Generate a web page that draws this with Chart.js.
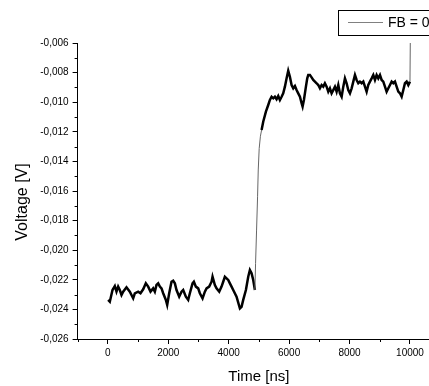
<!DOCTYPE html>
<html>
<head>
<meta charset="utf-8">
<script src="https://cdn.jsdelivr.net/npm/chart.js@4.4.1/dist/chart.umd.min.js"></script>
<style>
    html, body { margin: 0; padding: 0; background: #fff; overflow: hidden; }
    canvas { display: block; }
</style>
</head>
<body>
<canvas id="voltChart" width="470" height="386"></canvas>
<script>
// Thời gian (ns) và điện áp (V)
const baseTime = [
    11, 66, 155, 232, 287, 342, 397, 453, 508, 618,
    728, 839, 894, 1004, 1082, 1170, 1258, 1336, 1413, 1501,
    1556, 1611, 1667, 1722, 1777, 1832, 1921, 1965, 2031, 2108,
    2163, 2219, 2274, 2362, 2439, 2494, 2583, 2660, 2715, 2804,
    2848, 2914, 2991, 3046, 3135, 3212, 3267, 3355, 3433, 3466,
    3543, 3598, 3687, 3764, 3819, 3874, 3929, 3985, 4040, 4095,
    4150, 4260, 4371, 4426, 4481, 4570, 4647, 4702, 4757, 4812,
    4868
];
const baseVolt = [
    -0.02336, -0.02348, -0.02269, -0.02242, -0.02280, -0.02246, -0.02269, -0.02303, -0.02280, -0.02251,
    -0.02280, -0.02325, -0.02291, -0.02280, -0.02291, -0.02264, -0.02224, -0.02246, -0.02280, -0.02258,
    -0.02280, -0.02235, -0.02224, -0.02246, -0.02258, -0.02291, -0.02336, -0.02370, -0.02291, -0.02213,
    -0.02206, -0.02224, -0.02269, -0.02314, -0.02280, -0.02269, -0.02314, -0.02336, -0.02291, -0.02224,
    -0.02213, -0.02246, -0.02258, -0.02291, -0.02325, -0.02280, -0.02258, -0.02246, -0.02213, -0.02179,
    -0.02235, -0.02258, -0.02280, -0.02246, -0.02213, -0.02179, -0.02190, -0.02201, -0.02224, -0.02246,
    -0.02269, -0.02314, -0.02393, -0.02382, -0.02336, -0.02269, -0.02179, -0.02134, -0.02156, -0.02201,
    -0.02269
];
const stepTime = [
    4890, 4923, 4956, 4978, 5010, 5050, 5089, 5143, 5232, 5309,
    5364, 5420, 5475, 5530, 5585, 5640, 5695, 5751, 5805, 5861,
    5917, 5971, 6026, 6082, 6137, 6192, 6247, 6302, 6358, 6413,
    6446, 6490, 6556, 6600, 6634, 6689, 6744, 6799, 6854, 6910,
    6965, 7020, 7075, 7130, 7185, 7241, 7296, 7351, 7406, 7461,
    7517, 7572, 7627, 7682, 7738, 7793, 7848, 7903, 7958, 8013,
    8069, 8124, 8179, 8234, 8289, 8344, 8400, 8455, 8510, 8565,
    8620, 8675, 8731, 8786, 8841, 8896, 8951, 9007, 9062, 9117,
    9172, 9227, 9283, 9338, 9393, 9448, 9503, 9558, 9614, 9669,
    9724, 9779, 9834, 9890, 9945, 10000, 10010
];
const stepVolt = [
    -0.02089, -0.01864, -0.01639, -0.01458, -0.01312, -0.01230, -0.01188, -0.01132, -0.01064, -0.01019,
    -0.00985, -0.00963, -0.00974, -0.00963, -0.00980, -0.00958, -0.00985, -0.00963, -0.00940, -0.00895,
    -0.00839, -0.00787, -0.00828, -0.00884, -0.00906, -0.00891, -0.00918, -0.00940, -0.00963, -0.01007,
    -0.01030, -0.00985, -0.00895, -0.00839, -0.00816, -0.00816, -0.00832, -0.00850, -0.00861, -0.00872,
    -0.00884, -0.00906, -0.00884, -0.00895, -0.00872, -0.00895, -0.00929, -0.00906, -0.00940, -0.00918,
    -0.00895, -0.00929, -0.00884, -0.00940, -0.00963, -0.00895, -0.00839, -0.00872, -0.00918, -0.00940,
    -0.00906, -0.00861, -0.00816, -0.00850, -0.00872, -0.00861, -0.00872, -0.00861, -0.00895, -0.00929,
    -0.00884, -0.00861, -0.00839, -0.00816, -0.00850, -0.00816, -0.00839, -0.00816, -0.00850, -0.00861,
    -0.00895, -0.00929, -0.00906, -0.00884, -0.00861, -0.00872, -0.00861, -0.00895, -0.00929, -0.00940,
    -0.00963, -0.00918, -0.00872, -0.00861, -0.00884, -0.00861, -0.00600
];

const xTickValues = [-1000, 0, 1000, 2000, 3000, 4000, 5000, 6000, 7000, 8000, 9000, 10000, 11000];
const xTickLabels = ['', '0', '', '2000', '', '4000', '', '6000', '', '8000', '', '10000', ''];
const yTickValues = [-0.026, -0.025, -0.024, -0.023, -0.022, -0.021, -0.020, -0.019, -0.018, -0.017, -0.016,
    -0.015, -0.014, -0.013, -0.012, -0.011, -0.010, -0.009, -0.008, -0.007, -0.006];
const yTickLabels = ['-0,026', '', '-0,024', '', '-0,022', '', '-0,020', '', '-0,018', '', '-0,016',
    '', '-0,014', '', '-0,012', '', '-0,010', '', '-0,008', '', '-0,006'];

const seriesLabel = 'FB = 0';
const FONT = '"Liberation Sans", Arial, sans-serif';

document.addEventListener("DOMContentLoaded", () => {
    const points = baseTime.map((t, i) => ({ x: t, y: baseVolt[i] }))
        .concat(stepTime.map((t, i) => ({ x: t, y: stepVolt[i] })));

    // đoạn dốc lên và gai cuối vẽ mảnh, màu xám
    const isThin = ctx => (ctx.p0.parsed.x >= 4868 && ctx.p1.parsed.x <= 5089) || ctx.p1.parsed.x >= 10010;

    const legendBox = {
        id: 'legendBox',
        afterDraw(chart) {
            const c = chart.ctx;
            c.save();
            c.strokeStyle = '#000';
            c.lineWidth = 1;
            c.strokeRect(338.5, 10.5, 140, 25);
            c.strokeStyle = '#808080';
            c.beginPath();
            c.moveTo(348, 22.5);
            c.lineTo(383, 22.5);
            c.stroke();
            c.fillStyle = '#000';
            c.font = '14px ' + FONT;
            c.textBaseline = 'middle';
            c.fillText(chart.data.datasets[0].label, 388, 23);
            c.restore();
        }
    };

    // tiêu đề trục Y + vạch chia phụ (ngắn hơn vạch chính)
    const axisExtras = {
        id: 'axisExtras',
        afterDraw(chart) {
            const c = chart.ctx;
            const xs = chart.scales.x, ys = chart.scales.y;
            c.save();
            c.strokeStyle = '#000';
            c.lineWidth = 1;
            c.beginPath();
            xTickValues.forEach((v, i) => {
                if (xTickLabels[i]) return;
                const px = Math.round(xs.getPixelForValue(v)) + 0.5;
                c.moveTo(px, xs.top);
                c.lineTo(px, xs.top + 3);
            });
            yTickValues.forEach((v, i) => {
                if (yTickLabels[i]) return;
                const py = Math.round(ys.getPixelForValue(v)) + 0.5;
                c.moveTo(ys.right, py);
                c.lineTo(ys.right - 3, py);
            });
            c.stroke();

            c.translate(22.5, 202);
            c.rotate(-Math.PI / 2);
            c.fillStyle = '#000';
            c.font = '16px ' + FONT;
            c.textAlign = 'center';
            c.textBaseline = 'middle';
            c.fillText('Voltage [V]', 0, 0);
            c.restore();
        }
    };

    const tickFont = { family: FONT, size: 10 };
    const majorOnly = labels => ctx => (labels[ctx.index] ? '#000' : 'rgba(0,0,0,0)');

    new Chart(document.getElementById('voltChart').getContext('2d'), {
        type: 'line',
        data: {
            datasets: [{
                label: seriesLabel,
                data: points,
                borderColor: '#000',
                borderWidth: 2.5,
                pointRadius: 0,
                tension: 0,
                segment: {
                    borderWidth: ctx => isThin(ctx) ? 1 : 2.5,
                    borderColor: ctx => isThin(ctx) ? '#666' : '#000'
                }
            }]
        },
        options: {
            responsive: false,
            animation: false,
            devicePixelRatio: 1,
            layout: { padding: { top: 43, right: 29.8, left: 0, bottom: 0 } },
            plugins: {
                legend: { display: false },
                tooltip: { enabled: false }
            },
            scales: {
                x: {
                    type: 'linear',
                    min: -1000,
                    max: 11000,
                    afterBuildTicks: s => { s.ticks = xTickValues.map(v => ({ value: v })); },
                    afterFit: s => { s.height = 47; },
                    ticks: {
                        autoSkip: false,
                        maxRotation: 0,
                        padding: 3,
                        color: '#000',
                        font: tickFont,
                        callback: (v, i) => xTickLabels[i]
                    },
                    grid: { drawOnChartArea: false, tickLength: 5, color: '#000', tickColor: majorOnly(xTickLabels) },
                    border: { color: '#000', width: 1 },
                    title: { display: true, text: 'Time [ns]', color: '#000', font: { family: FONT, size: 15 }, padding: { top: 0, bottom: 0 } }
                },
                y: {
                    type: 'linear',
                    min: -0.026,
                    max: -0.006,
                    afterBuildTicks: s => { s.ticks = yTickValues.map(v => ({ value: v })); },
                    afterFit: s => { s.width = 77.6; },
                    ticks: {
                        autoSkip: false,
                        padding: 4,
                        color: '#000',
                        font: tickFont,
                        callback: (v, i) => yTickLabels[i]
                    },
                    grid: { drawOnChartArea: false, tickLength: 5, color: '#000', tickColor: majorOnly(yTickLabels) },
                    border: { color: '#000', width: 1 }
                }
            }
        },
        plugins: [legendBox, axisExtras]
    });
});
</script>
</body>
</html>
